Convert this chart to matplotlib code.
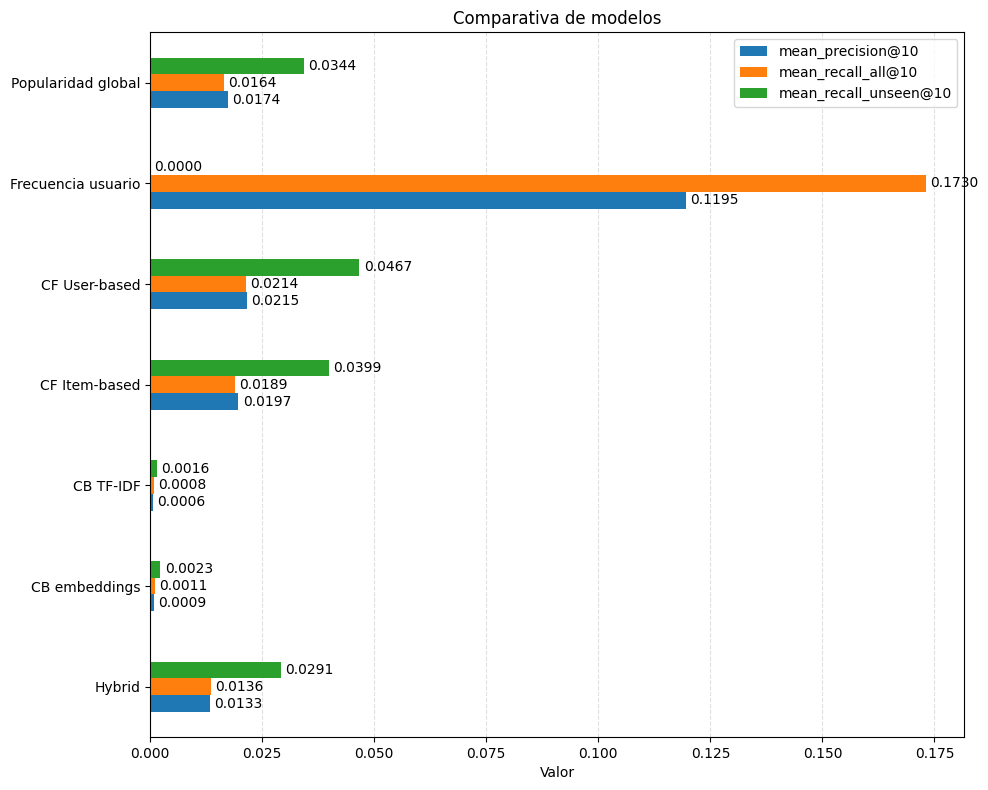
import numpy as np
import matplotlib.pyplot as plt

# data (bottom to top as drawn)
modelos = ['Hybrid', 'CB embeddings', 'CB TF-IDF', 'CF Item-based',
           'CF User-based', 'Frecuencia usuario', 'Popularidad global']
precision = [0.0133, 0.0009, 0.0006, 0.0197, 0.0215, 0.1195, 0.0174]
recall_all = [0.0136, 0.0011, 0.0008, 0.0189, 0.0214, 0.1730, 0.0164]
recall_unseen = [0.0291, 0.0023, 0.0016, 0.0399, 0.0467, 0.0000, 0.0344]

series = [('mean_precision@10', precision, '#1f77b4'),
          ('mean_recall_all@10', recall_all, '#ff7f0e'),
          ('mean_recall_unseen@10', recall_unseen, '#2ca02c')]

fig, ax = plt.subplots(figsize=(9.88, 7.9), dpi=100)
y = np.arange(len(modelos))
w = 0.5 / 3
for i, (nombre, vals, col) in enumerate(series):
    bars = ax.barh(y + (i - 1) * w, vals, height=w, color=col, label=nombre)
    ax.bar_label(bars, fmt='%.4f', padding=3)

ax.set_yticks(y)
ax.set_yticklabels(modelos)
ax.set_ylim(-0.5, len(modelos) - 0.5)
ax.set_xlabel('Valor')
ax.set_title('Comparativa de modelos')
ax.grid(axis='x', linestyle='--', alpha=0.4)
ax.set_axisbelow(True)
ax.legend(loc='upper right')
fig.subplots_adjust(left=0.152, right=0.976, top=0.959, bottom=0.067)
plt.savefig('out.png')
